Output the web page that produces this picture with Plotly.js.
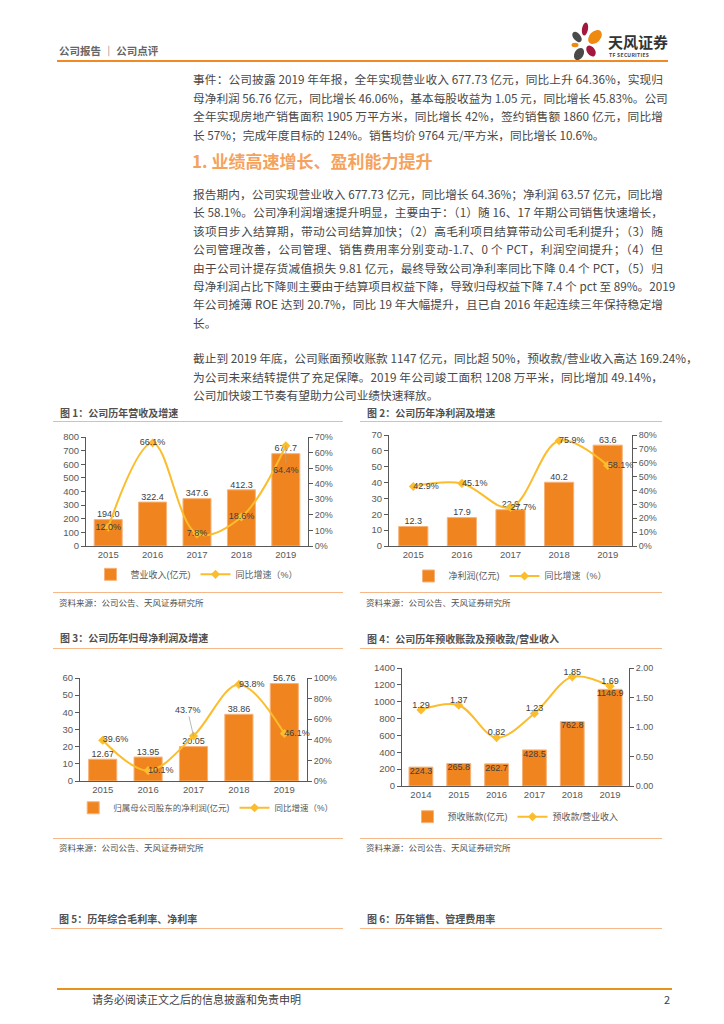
<!DOCTYPE html>
<html>
<head>
<meta charset="utf-8">
<script src="https://cdn.plot.ly/plotly-3.0.1.min.js"></script>
<style>
  html, body { margin:0; padding:0; background:#fff; }
  #page { position:relative; width:724px; height:1024px; overflow:hidden; background:#fff;
          font-family:"Noto Sans CJK SC", "Noto Sans", sans-serif; color:#404040; }
  .abs { position:absolute; }
  .ln { position:absolute; left:193px; width:470px; height:18px; line-height:18px; font-size:11.7px;
        white-space:nowrap; text-align:justify; text-align-last:justify; color:#484848; }
  .ln.last { text-align-last:left; }
  .hr { position:absolute; height:0; }
  .ctitle { position:absolute; font-size:10px; font-weight:bold; color:#505050; white-space:nowrap; line-height:12px; }
  .src { position:absolute; font-size:8.5px; color:#505050; white-space:nowrap; line-height:10px; }
  .chart { position:absolute; }
</style>
</head>
<body>
<div id="page">
  <!-- header -->
  <div class="abs" style="left:59px; top:44px; font-size:10.5px; font-weight:bold; color:#666; line-height:14px; white-space:nowrap;">公司报告 ｜ 公司点评</div>
  <div class="hr" style="left:57px; top:60px; width:611px; border-top:2px solid #F08A24;"></div>
  <svg class="abs" style="left:568px; top:20px;" width="40" height="42" viewBox="0 0 40 42">
    <ellipse cx="9" cy="17" rx="3.6" ry="6" transform="rotate(-40 9 17)" fill="#4a4a4a"/>
    <ellipse cx="17" cy="9" rx="3" ry="6.5" transform="rotate(10 17 9)" fill="#A3173F"/>
    <ellipse cx="27" cy="17" rx="5.5" ry="8" transform="rotate(45 27 17)" fill="#EE8A12"/>
    <ellipse cx="7" cy="25" rx="3.5" ry="2.2" fill="#EE8A12"/>
    <ellipse cx="23" cy="31" rx="4" ry="6" transform="rotate(-35 23 31)" fill="#A3173F"/>
    <ellipse cx="11" cy="34" rx="4.5" ry="6.5" transform="rotate(30 11 34)" fill="#4a4a4a"/>
  </svg>
  <div class="abs" style="left:608px; top:33px; font-size:15px; font-weight:bold; color:#333; line-height:18px; white-space:nowrap;">天风证券</div>
  <div class="abs" style="left:609px; top:52px; font-size:5px; font-weight:bold; color:#444; line-height:6px; white-space:nowrap; letter-spacing:0.3px;">TF SECURITIES</div>

  <!-- paragraph 1 -->
  <div class="ln" style="top:70px;">事件：公司披露 2019 年年报，全年实现营业收入 677.73 亿元，同比上升 64.36%，实现归</div>
  <div class="ln" style="top:88.5px;">母净利润 56.76 亿元，同比增长 46.06%，基本每股收益为 1.05 元，同比增长 45.83%。公司</div>
  <div class="ln" style="top:107px;">全年实现房地产销售面积 1905 万平方米，同比增长 42%，签约销售额 1860 亿元，同比增</div>
  <div class="ln last" style="top:125.5px;">长 57%；完成年度目标的 124%。销售均价 9764 元/平方米，同比增长 10.6%。</div>

  <div class="abs" style="left:192px; top:150px; font-size:17px; font-weight:bold; color:#F5A25C; line-height:22px; white-space:nowrap;">1. 业绩高速增长、盈利能力提升</div>

  <!-- paragraph 2 -->
  <div class="ln" style="top:185px;">报告期内，公司实现营业收入 677.73 亿元，同比增长 64.36%；净利润 63.57 亿元，同比增</div>
  <div class="ln" style="top:203.4px;">长 58.1%。公司净利润增速提升明显，主要由于：（1）随 16、17 年期公司销售快速增长，</div>
  <div class="ln" style="top:221.8px;">该项目步入结算期，带动公司结算加快；（2）高毛利项目结算带动公司毛利提升；（3）随</div>
  <div class="ln" style="top:240.2px;">公司管理改善，公司管理、销售费用率分别变动-1.7、0 个 PCT，利润空间提升；（4）但</div>
  <div class="ln" style="top:258.6px;">由于公司计提存货减值损失 9.81 亿元，最终导致公司净利率同比下降 0.4 个 PCT，（5）归</div>
  <div class="ln" style="top:277px;">母净利润占比下降则主要由于结算项目权益下降，导致归母权益下降 7.4 个 pct 至 89%。2019</div>
  <div class="ln" style="top:295.4px;">年公司摊薄 ROE 达到 20.7%，同比 19 年大幅提升，且已自 2016 年起连续三年保持稳定增</div>
  <div class="ln last" style="top:313.8px;">长。</div>

  <!-- paragraph 3 -->
  <div class="ln" style="top:349px;">截止到 2019 年底，公司账面预收账款 1147 亿元，同比超 50%，预收款/营业收入高达 169.24%，</div>
  <div class="ln" style="top:367.5px;">为公司未来结转提供了充足保障。2019 年公司竣工面积 1208 万平米，同比增加 49.14%，</div>
  <div class="ln last" style="top:386px;">公司加快竣工节奏有望助力公司业绩快速释放。</div>

  <!-- chart frames -->
  <div class="ctitle" style="left:60px; top:407px;">图 1：公司历年营收及增速</div>
  <div class="hr" style="left:53px; top:421px; width:290px; border-top:1.5px solid #F6B889;"></div>
  <div class="hr" style="left:53px; top:592px; width:290px; border-top:1.5px solid #F6B889;"></div>
  <div class="src" style="left:59px; top:597px;">资料来源：公司公告、天风证券研究所</div>

  <div class="ctitle" style="left:367px; top:407px;">图 2：公司历年净利润及增速</div>
  <div class="hr" style="left:360px; top:421px; width:302px; border-top:1.5px solid #F6B889;"></div>
  <div class="hr" style="left:360px; top:592px; width:302px; border-top:1.5px solid #F6B889;"></div>
  <div class="src" style="left:366px; top:597px;">资料来源：公司公告、天风证券研究所</div>

  <div class="ctitle" style="left:60px; top:632px;">图 3：公司历年归母净利润及增速</div>
  <div class="hr" style="left:53px; top:648px; width:290px; border-top:1.5px solid #F6B889;"></div>
  <div class="hr" style="left:53px; top:838px; width:290px; border-top:1.5px solid #F6B889;"></div>
  <div class="src" style="left:59px; top:842px;">资料来源：公司公告、天风证券研究所</div>

  <div class="ctitle" style="left:367px; top:633px;">图 4：公司历年预收账款及预收款/营业收入</div>
  <div class="hr" style="left:360px; top:648px; width:302px; border-top:1.5px solid #F6B889;"></div>
  <div class="hr" style="left:360px; top:838px; width:302px; border-top:1.5px solid #F6B889;"></div>
  <div class="src" style="left:366px; top:842px;">资料来源：公司公告、天风证券研究所</div>

  <div class="ctitle" style="left:59px; top:913px;">图 5：历年综合毛利率、净利率</div>
  <div class="hr" style="left:51px; top:928px; width:292px; border-top:1.5px solid #F6B889;"></div>
  <div class="ctitle" style="left:367px; top:913px;">图 6：历年销售、管理费用率</div>
  <div class="hr" style="left:360px; top:928px; width:302px; border-top:1.5px solid #F6B889;"></div>

  <!-- footer -->
  <div class="hr" style="left:57px; top:988px; width:615px; border-top:2.5px solid #E8921E;"></div>
  <div class="abs" style="left:92px; top:992px; font-size:11px; color:#404040; line-height:15px; white-space:nowrap;">请务必阅读正文之后的信息披露和免责申明</div>
  <div class="abs" style="left:664px; top:992px; font-size:11px; color:#404040; line-height:15px;">2</div>

  <div id="c1" class="chart" style="left:40px; top:425px;"></div>
  <div id="c2" class="chart" style="left:360px; top:425px;"></div>
  <div id="c3" class="chart" style="left:40px; top:660px;"></div>
  <div id="c4" class="chart" style="left:360px; top:655px;"></div>
</div>

<script>
// ---------------- data ----------------
const years5 = ['2015', '2016', '2017', '2018', '2019'];
const years6 = ['2014', '2015', '2016', '2017', '2018', '2019'];

const revenue = [194.0, 322.4, 347.6, 412.3, 677.7];          // 营业收入(亿元)
const revenueGrowth = [12.0, 66.1, 7.8, 18.6, 64.4];          // 同比增速(%)

const netProfit = [12.3, 17.9, 22.9, 40.2, 63.6];             // 净利润(亿元)
const netProfitGrowth = [42.9, 45.1, 27.7, 75.9, 58.1];       // 同比增速(%)

const parentProfit = [12.67, 13.95, 20.05, 38.86, 56.76];     // 归属母公司股东的净利润(亿元)
const parentProfitGrowth = [39.6, 10.1, 43.7, 93.8, 46.1];    // 同比增速(%)

const advances = [224.3, 265.8, 262.7, 428.5, 762.8, 1146.9]; // 预收账款(亿元)
const advanceRatio = [1.29, 1.37, 0.82, 1.23, 1.85, 1.69];    // 预收款/营业收入

// ---------------- style ----------------
const BAR = '#F0851F';
const BAR_EDGE = '#F7B27A';
const LINE = '#FBBD2B';
const AXIS = '#595959';
const TXT = '#404040';
const FONT = 'Liberation Sans, Arial, Noto Sans CJK SC, sans-serif';

function baseLayout(o) {
  return {
    width: o.w, height: o.h,
    margin: Object.assign({ autoexpand: false }, o.margin),
    paper_bgcolor: 'rgba(0,0,0,0)', plot_bgcolor: 'rgba(0,0,0,0)',
    font: { family: FONT, size: 9, color: '#595959' },
    showlegend: true,
    legend: Object.assign({ orientation: 'h', x: 0.5, xanchor: 'center', y: o.legendY, yanchor: 'middle',
              font: { size: 9, color: '#595959' }, itemwidth: 30, bgcolor: 'rgba(0,0,0,0)' }, o.legendExtra || {}),
    bargap: o.bargap,
    xaxis: { type: 'category', showline: true, linecolor: AXIS, linewidth: 1, ticks: '',
             showgrid: false, zeroline: false, tickfont: { size: 9.5, color: '#595959' }, fixedrange: true },
    yaxis: { range: o.yRange, dtick: o.yDtick, showline: true, linecolor: AXIS, linewidth: 1,
             ticks: 'outside', ticklen: 4, tickcolor: AXIS, showgrid: false, zeroline: false,
             tickfont: { size: 9.5, color: '#595959' }, fixedrange: true },
    yaxis2: { overlaying: 'y', side: 'right', range: o.y2Range, dtick: o.y2Dtick,
              ticksuffix: o.y2Suffix || '', tickformat: o.y2Format || '',
              showline: true, linecolor: AXIS, linewidth: 1, ticks: 'outside', ticklen: 4, tickcolor: AXIS,
              showgrid: false, zeroline: false, tickfont: { size: 9, color: '#595959' }, fixedrange: true },
    annotations: []
  };
}

function barTrace(x, y, name) {
  return { type: 'bar', x: x, y: y, name: name, yaxis: 'y',
           marker: { color: BAR, line: { color: BAR_EDGE, width: 1 } }, hoverinfo: 'skip' };
}
function lineTrace(x, y, name) {
  return { type: 'scatter', mode: 'lines+markers', x: x, y: y, name: name, yaxis: 'y2',
           line: { color: LINE, width: 2, shape: 'spline', smoothing: 1 },
           marker: { symbol: 'diamond', size: 7, color: LINE }, hoverinfo: 'skip', cliponaxis: false };
}
function textTrace(x, y, text, axis, pos) {
  return { type: 'scatter', mode: 'text', x: x, y: y, text: text, yaxis: axis,
           textposition: pos, textfont: { size: 9, color: TXT, family: FONT },
           showlegend: false, hoverinfo: 'skip', cliponaxis: false };
}
// callout label (leader line) for one point; x given as category index so the category axis is not stretched
function callout(i, yVals, fmt, ax, ay) {
  return { x: i, y: yVals[i], xref: 'x', yref: 'y2', text: fmt(yVals[i]), showarrow: true,
           arrowhead: 0, arrowwidth: 0.8, arrowcolor: '#a6a6a6', ax: ax, ay: ay,
           font: { size: 9, color: TXT, family: FONT } };
}
const pct = v => v.toFixed(1) + '%';
const cfg = { displayModeBar: false, staticPlot: true };

// ---------------- chart 1 ----------------
(function () {
  const lay = baseLayout({ w: 303, h: 165, margin: { l: 46, r: 35, t: 12, b: 44 }, legendY: -0.26,
    bargap: 0.37, yRange: [0, 800], yDtick: 100, y2Range: [0, 70], y2Dtick: 10, y2Suffix: '%' });
  const calloutIdx = 4;
  const lineText = revenueGrowth.map((v, i) => i === calloutIdx ? '' : pct(v));
  lay.annotations.push(callout(calloutIdx, revenueGrowth, pct, 0, 24));
  const data = [
    barTrace(years5, revenue, '营业收入(亿元)'),
    lineTrace(years5, revenueGrowth, '同比增速（%）'),
    textTrace(years5, revenue, revenue.map(v => v.toFixed(1)), 'y', 'top center'),
    textTrace(years5, revenueGrowth, lineText, 'y2', 'middle center')
  ];
  Plotly.newPlot('c1', data, lay, cfg);
})();

// ---------------- chart 2 ----------------
(function () {
  const lay = baseLayout({ w: 303, h: 165, margin: { l: 29, r: 31, t: 10, b: 44 }, legendY: -0.27,
    bargap: 0.4, yRange: [0, 70], yDtick: 10, y2Range: [0, 80], y2Dtick: 10, y2Suffix: '%' });
  const data = [
    barTrace(years5, netProfit, '净利润(亿元)'),
    lineTrace(years5, netProfitGrowth, '同比增速（%）'),
    textTrace(years5, netProfit, netProfit.map(v => v.toFixed(1)), 'y', 'top center'),
    textTrace(years5, netProfitGrowth, netProfitGrowth.map(pct), 'y2', 'middle right')
  ];
  Plotly.newPlot('c2', data, lay, cfg);
})();

// ---------------- chart 3 ----------------
(function () {
  const lay = baseLayout({ w: 303, h: 165, margin: { l: 40, r: 36, t: 18, b: 44 }, legendY: -0.26,
    legendExtra: { x: -0.03, xanchor: 'left', font: { size: 8.5, color: '#595959' } },
    bargap: 0.38, yRange: [0, 60], yDtick: 10, y2Range: [0, 100], y2Dtick: 20, y2Suffix: '%' });
  const calloutIdx = 2;
  const lineText = parentProfitGrowth.map((v, i) => i === calloutIdx ? '' : pct(v));
  lay.annotations.push(callout(calloutIdx, parentProfitGrowth, pct, -6, -26));
  const data = [
    barTrace(years5, parentProfit, '归属母公司股东的净利润(亿元)'),
    lineTrace(years5, parentProfitGrowth, '同比增速（%）'),
    textTrace(years5, parentProfit, parentProfit.map(v => v.toFixed(2)), 'y', 'top center'),
    textTrace(years5, parentProfitGrowth, lineText, 'y2', 'middle right')
  ];
  Plotly.newPlot('c3', data, lay, cfg);
})();

// ---------------- chart 4 ----------------
(function () {
  const lay = baseLayout({ w: 303, h: 170, margin: { l: 42, r: 34, t: 13, b: 39 }, legendY: -0.26,
    bargap: 0.37, yRange: [0, 1400], yDtick: 200, y2Range: [0, 2], y2Dtick: 0.5, y2Format: '.2f' });
  const data = [
    barTrace(years6, advances, '预收账款(亿元)'),
    lineTrace(years6, advanceRatio, '预收款/营业收入'),
    textTrace(years6, advances, advances.map(v => v.toFixed(1)), 'y', 'bottom center'),
    textTrace(years6, advanceRatio, advanceRatio.map(v => v.toFixed(2)), 'y2', 'top center')
  ];
  Plotly.newPlot('c4', data, lay, cfg);
})();
</script>
</body>
</html>
